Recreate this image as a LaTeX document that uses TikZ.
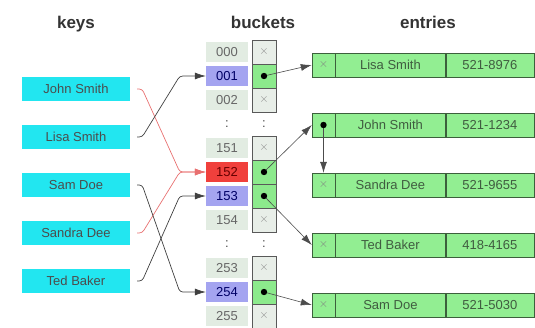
\documentclass[tikz,border=0pt]{standalone}
\usepackage{fontspec}
\setmainfont{Liberation Sans}
\usetikzlibrary{arrows.meta,positioning}
\definecolor{keycyan}{RGB}{34,230,240}
\definecolor{idxgray}{RGB}{226,236,226}
\definecolor{idxblue}{RGB}{164,164,240}
\definecolor{idxred}{RGB}{240,64,60}
\definecolor{ptrgray}{RGB}{232,238,232}
\definecolor{ptrgreen}{RGB}{140,234,140}
\definecolor{entgreen}{RGB}{146,238,146}
\definecolor{entline}{RGB}{60,96,60}
\definecolor{linkred}{RGB}{232,112,112}

\begin{document}
\begin{tikzpicture}[x=1pt,y=-1pt,>={Latex[length=11pt,width=7pt]},
  font=\fontsize{13}{15}\selectfont,
  title/.style={anchor=base,font=\fontsize{17}{19}\selectfont\bfseries,text=black!80},
  keybox/.style={fill=keycyan,minimum width=108pt,minimum height=24pt,inner sep=0pt,text=black!70},
  idx/.style={fill=idxgray,minimum width=42pt,minimum height=20pt,inner sep=0pt,text=black!60},
  idxhit/.style={idx,fill=idxblue,text=blue!40!black},
  idxclash/.style={idx,fill=idxred,text=red!40!black},
  ptr/.style={draw=black!65,fill=ptrgray,minimum width=24pt,minimum height=24pt,inner sep=0pt,text=black!45},
  ptrfull/.style={ptr,fill=ptrgreen},
  entx/.style={draw=entline,fill=entgreen,minimum width=23pt,minimum height=24pt,inner sep=0pt,text=black!50},
  entname/.style={entx,minimum width=110pt,text=green!15!black!75},
  entnum/.style={entx,minimum width=88pt,text=green!15!black!75},
  keylink/.style={->,black!75,line width=0.7pt,rounded corners=3pt},
  redlink/.style={keylink,linkred},
  plink/.style={->,black!70,line width=0.6pt}]
  \useasboundingbox (0,0) rectangle (535,328);

  \node[title] at (76,29) {keys};
  \node[title] at (263,29) {buckets};
  \node[title] at (428,29) {entries};

  % keys
  \node[keybox] (john)   at (76,89)  {John Smith};
  \node[keybox] (lisa)   at (76,137) {Lisa Smith};
  \node[keybox] (sam)    at (76,185) {Sam Doe};
  \node[keybox] (sandra) at (76,233) {Sandra Dee};
  \node[keybox] (ted)    at (76,281) {Ted Baker};

  % buckets
  \node[idx]      (i000) at (227,52)  {000};
  \node[idxhit]   (i001) at (227,76)  {001};
  \node[idx]      (i002) at (227,100) {002};
  \node[text=black!70]  at (227,124) {:};
  \node[idx]      (i151) at (227,148) {151};
  \node[idxclash] (i152) at (227,172) {152};
  \node[idxhit]   (i153) at (227,196) {153};
  \node[idx]      (i154) at (227,220) {154};
  \node[text=black!70]  at (227,244) {:};
  \node[idx]      (i253) at (227,268) {253};
  \node[idxhit]   (i254) at (227,292) {254};
  \node[idx]      (i255) at (227,316) {255};

  \node[ptr]     (p000) at (264,52)  {$\times$};
  \node[ptrfull] (p001) at (264,76)  {};
  \node[ptr]     (p002) at (264,100) {$\times$};
  \node[text=black!70]  at (264,124) {:};
  \node[ptr]     (p151) at (264,148) {$\times$};
  \node[ptrfull] (p152) at (264,172) {};
  \node[ptrfull] (p153) at (264,196) {};
  \node[ptr]     (p154) at (264,220) {$\times$};
  \node[text=black!70]  at (264,244) {:};
  \node[ptr]     (p253) at (264,268) {$\times$};
  \node[ptrfull] (p254) at (264,292) {};
  \node[ptr]     (p255) at (264,316) {$\times$};

  % entries
  \node[entx] (elisa0) at (323.5,65) {$\times$};
  \node[entname,right=0pt of elisa0] (elisa1) {Lisa Smith};
  \node[entnum,right=0pt of elisa1]  (elisa2) {521-8976};
  \node[entx] (ejohn0) at (323.5,125) {};
  \node[entname,right=0pt of ejohn0] (ejohn1) {John Smith};
  \node[entnum,right=0pt of ejohn1]  (ejohn2) {521-1234};
  \node[entx] (esandra0) at (323.5,185) {$\times$};
  \node[entname,right=0pt of esandra0] (esandra1) {Sandra Dee};
  \node[entnum,right=0pt of esandra1]  (esandra2) {521-9655};
  \node[entx] (eted0) at (323.5,245) {$\times$};
  \node[entname,right=0pt of eted0] (eted1) {Ted Baker};
  \node[entnum,right=0pt of eted1]  (eted2) {418-4165};
  \node[entx] (esam0) at (323.5,305) {$\times$};
  \node[entname,right=0pt of esam0] (esam1) {Sam Doe};
  \node[entnum,right=0pt of esam1]  (esam2) {521-5030};

  % hash links
  \draw[redlink] ([xshift=7pt]john.east)   -- ++(5,0) -- ([xshift=-26pt]i152.west) -- (i152.west);
  \draw[redlink] ([xshift=7pt]sandra.east) -- ++(5,0) -- ([xshift=-26pt]i152.west) -- (i152.west);
  \draw[keylink] ([xshift=7pt]lisa.east)   -- ++(5,0) -- ([xshift=-26pt]i001.west) -- (i001.west);
  \draw[keylink] ([xshift=7pt]sam.east)    -- ++(5,0) -- ([xshift=-26pt]i254.west) -- (i254.west);
  \draw[keylink] ([xshift=7pt]ted.east)    -- ++(5,0) -- ([xshift=-26pt]i153.west) -- (i153.west);

  % chain pointers
  \draw[plink] (p001.center) -- (elisa0.west);
  \draw[plink] (p152.center) -- (ejohn0.west);
  \draw[plink] (p153.center) -- (eted0.west);
  \draw[plink] (p254.center) -- (esam0.west);
  \draw[plink] (ejohn0.center) -- (esandra0.north);
  \foreach \p in {p001,p152,p153,p254,ejohn0}
    \fill (\p.center) circle (3.2);
\end{tikzpicture}
\end{document}
